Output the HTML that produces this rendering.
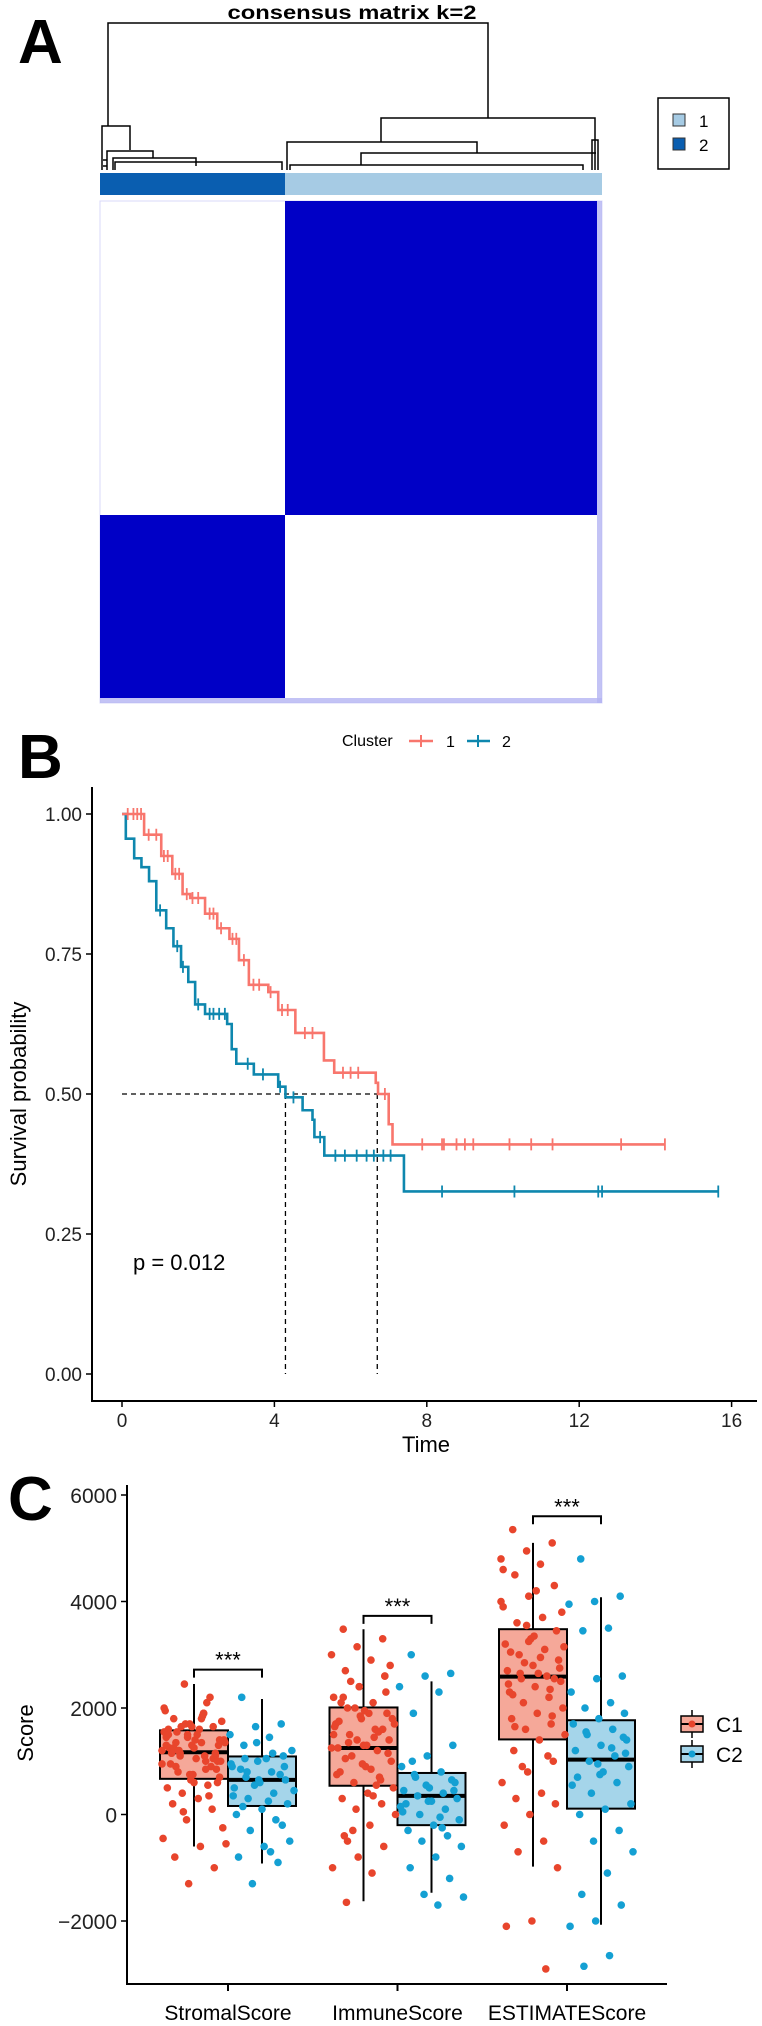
<!DOCTYPE html>
<html><head><meta charset="utf-8">
<style>
html,body{margin:0;padding:0;background:#fff;}
svg{display:block;font-family:"Liberation Sans",Arial,sans-serif;}
</style></head>
<body>
<svg id="fig" width="762" height="2026" viewBox="0 0 762 2026" xmlns="http://www.w3.org/2000/svg">
<!-- PANEL A -->
<g>
<text x="18" y="63" font-size="62" font-weight="bold">A</text>
<text x="352" y="19" font-size="19" font-weight="bold" text-anchor="middle" textLength="249" lengthAdjust="spacingAndGlyphs">consensus matrix k=2</text>
<g stroke="#000" stroke-width="1.5" fill="none">
<path d="M108 126V23H488V118"/>
<path d="M102 170V126H130V150"/>
<path d="M107 170V151H153V158"/>
<path d="M113 170V158H196V166"/>
<path d="M115 170V162H282V170"/>
<path d="M103 160h4M103 166h4"/>
<path d="M381 142V118H595V170"/>
<path d="M287 170V142H477V153"/>
<path d="M361 165V153H596"/>
<path d="M290 170V165H583V170"/>
<path d="M592 170V140H598V170"/>
</g>
<rect x="100" y="173" width="185" height="22" fill="#0a5eb0"/>
<rect x="285" y="173" width="317" height="22" fill="#a6cbe4"/>
<g>
<rect x="100" y="201" width="502" height="502" fill="#fff" stroke="#d8d8f8" stroke-width="1"/>
<rect x="285" y="201" width="312" height="314" fill="#0000c6"/>
<rect x="100" y="515" width="185" height="183" fill="#0000c6"/>
<rect x="597" y="201" width="5" height="502" fill="#b4b4f2" opacity="0.8"/>
<rect x="100" y="698" width="502" height="5" fill="#b4b4f2" opacity="0.8"/>
</g>
<g>
<rect x="658" y="98" width="71" height="71" fill="#fff" stroke="#000" stroke-width="1.5"/>
<rect x="673" y="114" width="12" height="12" fill="#a6cbe4" stroke="#333"/>
<rect x="673" y="138" width="12" height="12" fill="#0a5eb0" stroke="#333"/>
<text x="699" y="127" font-size="17">1</text>
<text x="699" y="151" font-size="17">2</text>
</g>
</g>
<!-- PANEL B -->
<g id="km">
<text x="18" y="778" font-size="62" font-weight="bold">B</text>
<g>
<text x="342" y="746" font-size="16">Cluster</text>
<line x1="409" y1="741" x2="433" y2="741" stroke="#F8766D" stroke-width="2.5"/>
<line x1="421" y1="735" x2="421" y2="747" stroke="#F8766D" stroke-width="2"/>
<text x="446" y="747" font-size="16">1</text>
<line x1="467" y1="741" x2="490" y2="741" stroke="#0E87AE" stroke-width="2.5"/>
<line x1="478" y1="735" x2="478" y2="747" stroke="#0E87AE" stroke-width="2"/>
<text x="502" y="747" font-size="16">2</text>
</g>
</g>
<!-- PANEL C -->
<g id="box">
<text x="8" y="1520" font-size="62" font-weight="bold">C</text>
</g>
</svg>
<script>
var NS="http://www.w3.org/2000/svg";
function mk(parent,tag,attrs){var e=document.createElementNS(NS,tag);for(var k in attrs)e.setAttribute(k,attrs[k]);parent.appendChild(e);return e;}

// ---------- KM data ----------
var kmTicksX=[0,4,8,12,16];
var kmTicksY=[0,0.25,0.5,0.75,1];
var kmTickLabelsY=["0.00","0.25","0.50","0.75","1.00"];
var c1Times=[0,0.58,1.03,1.32,1.59,1.79,2.18,2.5,2.82,3.07,3.33,3.84,4.1,4.55,5.3,5.57,6.66,6.72,7.0,7.1,14.25];
var c1Surv=[1,0.963,0.925,0.893,0.857,0.85,0.822,0.796,0.777,0.739,0.695,0.682,0.65,0.609,0.56,0.538,0.52,0.5,0.446,0.41,0.41];
var c2Times=[0,0.1,0.32,0.51,0.71,0.9,1.16,1.35,1.55,1.74,1.92,2.18,2.76,2.88,3.0,3.46,4.1,4.29,4.74,5.0,5.05,5.31,7.4,15.65];
var c2Surv=[1,0.956,0.921,0.905,0.88,0.828,0.796,0.764,0.727,0.7,0.66,0.643,0.625,0.58,0.554,0.535,0.513,0.494,0.471,0.454,0.423,0.39,0.326,0.326];
var c1Censor=[0.15,0.3,0.4,0.5,0.7,0.9,1.1,1.2,1.4,1.5,1.7,1.85,2.0,2.3,2.4,2.6,2.9,3.0,3.2,3.45,3.6,3.9,4.2,4.35,4.8,5.0,5.8,6.0,6.2,6.9,7.88,8.4,8.45,8.78,9.0,9.22,10.17,10.74,11.3,13.1,14.25];
var c2Censor=[1.0,1.45,1.6,2.0,2.3,2.4,2.55,2.7,3.3,3.7,4.15,4.5,5.2,5.6,5.85,6.16,6.42,6.61,6.86,7.05,8.4,10.3,12.5,12.6,15.65];
var medC1=6.7, medC2=4.29;

var kmX=function(t){return 122+t*38.1;};
var kmY=function(p){return 1374-p*560;};
var km=document.getElementById('km');
function survAt(ts,ss,t){var s=ss[0];for(var i=0;i<ts.length;i++){if(ts[i]<=t)s=ss[i];}return s;}
var axL=mk(km,'path',{d:'M92 787V1401H757',stroke:'#000','stroke-width':2,fill:'none'});


kmTicksY.forEach(function(v,i){
  var y=kmY(v);
  mk(km,'line',{x1:86,x2:92,y1:y,y2:y,stroke:'#000','stroke-width':1.5});
  var t=mk(km,'text',{x:82,y:y+7,'font-size':19,'text-anchor':'end',fill:'#222'});
  t.textContent=kmTickLabelsY[i];
  
  
});
kmTicksX.forEach(function(v){
  var x=kmX(v);
  mk(km,'line',{x1:x,x2:x,y1:1401,y2:1407,stroke:'#000','stroke-width':1.5});
  var t=mk(km,'text',{x:x,y:1427,'font-size':19,'text-anchor':'middle',fill:'#222'});
  t.textContent=String(v);
  
  
});
var xt=mk(km,'text',{x:426,y:1452,'font-size':22,'text-anchor':'middle'});xt.textContent='Time';


var yt=mk(km,'text',{x:0,y:0,'font-size':22,'text-anchor':'middle',transform:'translate(26,1094) rotate(-90)'});yt.textContent='Survival probability';


var pv=mk(km,'text',{x:133,y:1270,'font-size':22});pv.textContent='p = 0.012';


var md=mk(km,'path',{d:'M'+kmX(0)+' '+kmY(0.5)+'H'+kmX(medC1)+'M'+kmX(medC2)+' '+kmY(0.5)+'V'+kmY(0)+'M'+kmX(medC1)+' '+kmY(0.5)+'V'+kmY(0),stroke:'#000','stroke-width':1.3,'stroke-dasharray':'5,4',fill:'none'});


function drawCurve(ts,ss,cens,col,name){
  var d='M'+kmX(ts[0])+' '+kmY(ss[0]);
  for(var i=1;i<ts.length;i++){d+='H'+kmX(ts[i])+'V'+kmY(ss[i]);}
  var p=mk(km,'path',{d:d,stroke:col,'stroke-width':2.6,fill:'none'});
  
  
  var cd='';
  cens.forEach(function(t){var x=kmX(t),y=kmY(survAt(ts,ss,t));cd+='M'+x+' '+(y-6)+'V'+(y+6);});
  var c=mk(km,'path',{d:cd,stroke:col,'stroke-width':1.8,fill:'none'});
  
  
}
drawCurve(c2Times,c2Surv,c2Censor,'#0E87AE','cluster-2');
drawCurve(c1Times,c1Surv,c1Censor,'#F8766D','cluster-1');

// ---------- Boxplot data ----------
var categories=["StromalScore","ImmuneScore","ESTIMATEScore"];
var scoreTicks=[-2000,0,2000,4000,6000];
var c1Q1=[670,540,1410], c1Med=[1170,1250,2590], c1Q3=[1580,2010,3480], c1Min=[-600,-1630,-980], c1Max=[2450,3480,5100];
var c2Q1=[160,-200,110], c2Med=[650,350,1030], c2Q3=[1090,780,1770], c2Min=[-920,-1470,-2070], c2Max=[2170,2500,4080];
var sigY=[2720,3730,5600];
var stromalC1=[1800,1650,1500,1200,1350,900,1100,1700,2000,1900,800,600,1300,1450,1000,1150,700,1250,1600,550,400,1750,1050,950,2200,2450,1400,300,200,100,-100,-550,-600,-800,-1000,-1300,-450,1850,1550,850,650,1950,1100,1200,1300,750,500,2100,1650,1000,1400,1250,350,50,-250,1500,1150,900,1700,1350,1600,1250,1050,1450,950,1800,1350,1150,750,1550,1900,1200,1000,1650,1300,850,1100,1400,600,1500];
var stromalC2=[2200,1700,1650,1500,1450,1300,1100,1000,900,800,700,650,600,500,400,300,200,100,0,-100,-300,-500,-600,-800,-900,-1300,1200,1050,850,750,550,450,250,150,-200,1350,950,-700,1050,900,650,350,1150,800];
var immuneC1=[3480,3300,3150,3000,2900,2700,2600,2400,2200,2100,2000,1900,1800,1700,1600,1500,1400,1300,1250,1200,1100,1000,900,800,700,600,500,400,300,200,100,0,-200,-400,-600,-800,-1000,-1100,-1650,2300,1850,1650,1450,1350,1150,950,750,550,2500,2800,1950,1750,1550,-300,1800,1300,2100,650,2000,1700,1900,2200,1600,1400,1250,850,1050,2600,2400,1500,350,-500];
var immuneC2=[3000,2650,2600,2400,2300,1900,1300,1100,900,800,700,600,500,450,400,350,300,250,200,100,0,-100,-200,-300,-400,-500,-600,-800,-1000,-1200,-1500,-1550,-1700,1000,650,550,150,-50,750,450,250,50,-250];
var estimateC1=[5350,5100,4950,4800,4700,4500,4300,4100,3900,3700,3600,3450,3300,3200,3100,3000,2900,2800,2700,2600,2550,2500,2400,2300,2200,2100,2000,1900,1800,1700,1600,1500,1400,1200,1000,800,600,400,300,200,0,-200,-500,-700,-1000,-2000,-2100,-2900,2650,2750,3350,2450,1100,900,3800,4200,3050,2350,2850,3150,2650,2250,1850,3550,4000,2950,1650,2550,3250,4600];
var estimateC2=[4800,4100,4000,3950,3500,3450,2600,2550,2300,2100,2000,1900,1800,1700,1600,1500,1400,1300,1200,1100,1000,900,800,700,600,400,200,100,0,-300,-500,-700,-1100,-1500,-1700,-2000,-2100,-2650,-2850,1450,950,550,1250,1550,1150,750];
var c1Points=[stromalC1,immuneC1,estimateC1];
var c2Points=[stromalC2,immuneC2,estimateC2];

var bx=document.getElementById('box');
var catX=function(i){return 228+i*169.5;};
var sY=function(v){return 1814.5-v*0.05325;};
var BW=68;
var axC=mk(bx,'path',{d:'M127 1485V1984H667',stroke:'#000','stroke-width':2,fill:'none'});


scoreTicks.forEach(function(v){
  var y=sY(v);
  mk(bx,'line',{x1:121,x2:127,y1:y,y2:y,stroke:'#000','stroke-width':1.5});
  var t=mk(bx,'text',{x:117,y:y+8,'font-size':21,'text-anchor':'end',fill:'#222'});
  t.textContent=(v<0?'\u2212'+(-v):String(v));
  
  
});
categories.forEach(function(c,i){
  var x=catX(i);
  mk(bx,'line',{x1:x,x2:x,y1:1984,y2:1991,stroke:'#000','stroke-width':2});
  var t=mk(bx,'text',{x:x,y:2020,'font-size':21,'text-anchor':'middle'});
  t.textContent=c;
  
  
});
var st=mk(bx,'text',{x:0,y:0,'font-size':22,'text-anchor':'middle',transform:'translate(33,1733) rotate(-90)'});st.textContent='Score';



function drawBox(cx,q1,med,q3,mn,mx,fill,name){
  var g=mk(bx,'g',{});
  
  
  mk(g,'line',{x1:cx,x2:cx,y1:sY(mx),y2:sY(mn),stroke:'#000','stroke-width':2});
  mk(g,'rect',{x:cx-BW/2,y:sY(q3),width:BW,height:sY(q1)-sY(q3),fill:fill,stroke:'#000','stroke-width':2});
  mk(g,'line',{x1:cx-BW/2,x2:cx+BW/2,y1:sY(med),y2:sY(med),stroke:'#000','stroke-width':4});
}
function drawPts(cx,vals,col,name){
  var g=mk(bx,'g',{});
  
  
  vals.forEach(function(v,k){
    var off=(((k*37+11)%61)/60-0.5)*64;
    mk(g,'circle',{cx:cx+off,cy:sY(v),r:3.8,fill:col});
  });
}
categories.forEach(function(c,i){
  var x1=catX(i)-34,x2=catX(i)+34;
  drawBox(x1,c1Q1[i],c1Med[i],c1Q3[i],c1Min[i],c1Max[i],'#f5a899','box-c1-'+i);
  drawBox(x2,c2Q1[i],c2Med[i],c2Q3[i],c2Min[i],c2Max[i],'#a5d5ea','box-c2-'+i);
  drawPts(x1,c1Points[i],'#E8452C','points-c1-'+i);
  drawPts(x2,c2Points[i],'#14A0D3','points-c2-'+i);
  var y=sY(sigY[i]);
  var b=mk(bx,'path',{d:'M'+x1+' '+(y+8)+'V'+y+'H'+x2+'V'+(y+8),stroke:'#000','stroke-width':2,fill:'none'});
  
  
  var s=mk(bx,'text',{x:catX(i),y:y-2,'font-size':22,'text-anchor':'middle'});
  s.textContent='***';
  
  
});
var lg=mk(bx,'g',{});


[['C1','#f5a899','#E8452C',1724],['C2','#a5d5ea','#14A0D3',1754]].forEach(function(e){
  mk(lg,'line',{x1:692,x2:692,y1:e[3]-14,y2:e[3]+14,stroke:'#000','stroke-width':1.5});
  mk(lg,'rect',{x:681,y:e[3]-8,width:22,height:16,fill:e[1],stroke:'#000','stroke-width':1.5});
  mk(lg,'line',{x1:681,x2:703,y1:e[3],y2:e[3],stroke:'#000','stroke-width':2});
  mk(lg,'circle',{cx:692,cy:e[3],r:3.5,fill:e[2]});
  var t=mk(lg,'text',{x:716,y:e[3]+8,'font-size':21});
  t.textContent=e[0];
  
  
});
</script>
</body></html>
